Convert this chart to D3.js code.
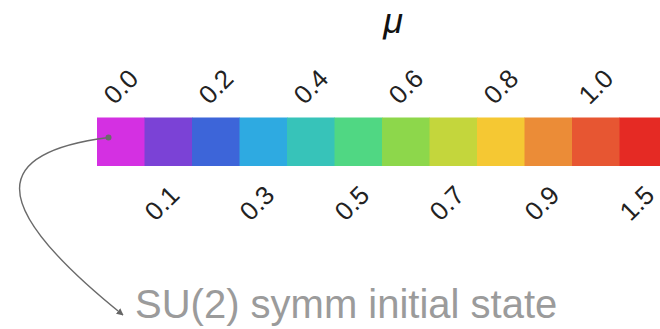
<!DOCTYPE html>
<html>
<head>
<meta charset="utf-8">
<script src="https://cdn.jsdelivr.net/npm/d3@7"></script>
<style>
  html, body { margin: 0; padding: 0; background: #fff; }
  svg { display: block; }
</style>
</head>
<body>
<svg id="chart" width="660" height="329"></svg>
<script>
// Colour key for the interaction strength mu
const muValues = ["0.0", "0.1", "0.2", "0.3", "0.4", "0.5", "0.6", "0.7", "0.8", "0.9", "1.0", "1.5"];
const muColors = ["#d430e2", "#7b42d6", "#3d65d9", "#2eaae1", "#37c3b9", "#50d783",
                  "#8dd74b", "#c4d63c", "#f5c833", "#eb8c37", "#e75632", "#e52a24"];
const annotationText = "SU(2) symm initial state";
const axisTitle = "\u03bc";

const svg = d3.select("#chart");

const barLeft = 97, cellW = 47.5, barTop = 117.5, barH = 48.5;

const x = d3.scaleBand()
  .domain(muValues)
  .range([barLeft, barLeft + cellW * muValues.length])
  .padding(0);

const color = d3.scaleOrdinal().domain(muValues).range(muColors);

// colour cells
svg.append("g")
  .selectAll("rect")
  .data(muValues)
  .join("rect")
  .attr("x", d => x(d))
  .attr("y", barTop)
  .attr("width", x.bandwidth() + 0.5)
  .attr("height", barH)
  .attr("fill", d => color(d));

// tick labels: even entries above the bar, odd entries below
const labelFont = "'Liberation Sans', Arial, Helvetica, sans-serif";
const labels = svg.append("g")
  .attr("font-family", labelFont)
  .attr("font-size", 26)
  .attr("fill", "#222")
  .attr("text-anchor", "middle");

labels.selectAll("text.top")
  .data(muValues.filter((d, i) => i % 2 === 0))
  .join("text")
  .attr("class", "top")
  .attr("transform", d => `translate(${x(d) + x.bandwidth() / 2},${barTop - 31}) rotate(-45)`)
  .attr("dy", "0.35em")
  .text(d => d);

labels.selectAll("text.bottom")
  .data(muValues.filter((d, i) => i % 2 === 1))
  .join("text")
  .attr("class", "bottom")
  .attr("transform", d => `translate(${x(d) + x.bandwidth() / 2 - 6.5},${barTop + barH + 37}) rotate(-45)`)
  .attr("dy", "0.35em")
  .text(d => d);

// axis title
svg.append("text")
  .attr("x", 393)
  .attr("y", 32.5)
  .attr("text-anchor", "middle")
  .attr("font-family", labelFont)
  .attr("font-style", "italic")
  .attr("font-size", 36)
  .attr("fill", "#111")
  .text(axisTitle);

// annotation arrow from the mu = 0.0 cell down to its caption
svg.append("defs").append("marker")
  .attr("id", "arrowhead")
  .attr("viewBox", "0 0 10 10")
  .attr("refX", 9)
  .attr("refY", 5)
  .attr("markerWidth", 7)
  .attr("markerHeight", 7)
  .attr("markerUnits", "userSpaceOnUse")
  .attr("orient", "auto")
  .append("path")
  .attr("d", "M0,0 L10,5 L0,10 Z")
  .attr("fill", "#666");

const sx = x(muValues[0]) + 11.5, sy = barTop + 20;
const p = d3.path();
p.moveTo(sx, sy);
p.bezierCurveTo(-5, 152, -20, 200, 123, 315);
svg.append("path")
  .attr("d", p.toString())
  .attr("fill", "none")
  .attr("stroke", "#6a6a6a")
  .attr("stroke-width", 1.4)
  .attr("marker-end", "url(#arrowhead)");

svg.append("circle")
  .attr("cx", sx)
  .attr("cy", sy)
  .attr("r", 3)
  .attr("fill", "#6a6a6a");

svg.append("text")
  .attr("x", 135)
  .attr("y", 318)
  .attr("font-family", labelFont)
  .attr("font-size", 40)
  .attr("fill", "#9b9b9b")
  .text(annotationText);
</script>
</body>
</html>
